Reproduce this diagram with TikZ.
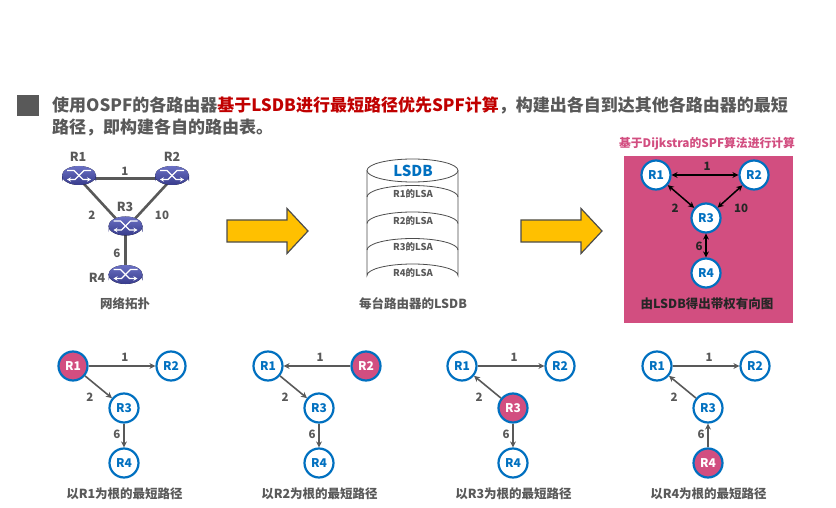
\documentclass[tikz,border=0pt]{standalone}
\usepackage{fontspec}
\setmainfont{Noto Sans CJK SC}
\usetikzlibrary{arrows.meta,shapes.geometric}
\definecolor{txtgray}{HTML}{595959}
\definecolor{keyred}{HTML}{C00000}
\definecolor{linkblue}{HTML}{0070C0}
\definecolor{rootpink}{HTML}{D24E80}
\definecolor{arrowgold}{HTML}{FFC000}
\definecolor{routerlight}{HTML}{6A70C4}
\definecolor{routerdark}{HTML}{383C8C}
\tikzset{
  >={Stealth[length=6pt,width=6pt]},
  plainnode/.style={circle,draw=linkblue,line width=2.2pt,fill=white,minimum size=29pt,inner sep=0pt,
    text=linkblue,font=\bfseries\fontsize{12}{12}\selectfont},
  rootnode/.style={plainnode,fill=rootpink,text=white},
  routernode/.style={ellipse,minimum width=34pt,minimum height=25pt,inner sep=0pt},
  graylabel/.style={text=txtgray,font=\bfseries\fontsize{11.5}{12}\selectfont,inner sep=0pt},
  routername/.style={text=txtgray,font=\bfseries\fontsize{12.5}{13}\selectfont,inner sep=0pt},
  caption/.style={text=txtgray,font=\bfseries\fontsize{12.5}{13}\selectfont,inner sep=0pt},
  netlink/.style={draw=txtgray,line width=2.6pt},
  treelink/.style={draw=txtgray,line width=1.6pt},
  lsalabel/.style={text=txtgray,font=\bfseries\fontsize{9.5}{10}\selectfont,inner sep=0pt},
  blockarrow/.style={fill=arrowgold,draw=black!70,line width=1.2pt},
}
\newcommand{\routericon}[1]{
  \begin{scope}[shift={(#1)}]
    \fill[routerdark] (-17,-3) -- (-17,3) arc[start angle=180,end angle=360,x radius=17,y radius=9.5] -- (17,-3) -- cycle;
    \fill[top color=routerlight,bottom color=routerdark] (0,-3) ellipse[x radius=17,y radius=9.5];
    \draw[white,line width=1.4pt,->,>={Stealth[length=4pt,width=4.5pt]}] (-12,-8) -- (-5,-8) -- (4,1) -- (12,1);
    \draw[white,line width=1.4pt,->,>={Stealth[length=4pt,width=4.5pt]}] (12,-8) -- (5,-8) -- (-4,1) -- (-12,1);
  \end{scope}
}
\begin{document}
\begin{tikzpicture}[x=1pt,y=-1pt]
\useasboundingbox (0,0) rectangle (836,508);
%heading
\fill[txtgray] (17,95) rectangle (39,116);
\node[anchor=west,inner sep=0pt,text=txtgray,font=\bfseries\fontsize{17}{17}\selectfont] (line1) at (52,105)
  {使用OSPF的各路由器\textcolor{keyred}{基于LSDB进行最短路径优先SPF计算}，构建出各自到达其他各路由器的最短};
\node[anchor=west,inner sep=0pt,text=txtgray,font=\bfseries\fontsize{17}{17}\selectfont] (line2) at (52,127)
  {路径，即构建各自的路由表。};

%topology
\node[routernode] (T1) at (79,178.5) {};
\node[routernode] (T2) at (172,178.5) {};
\node[routernode] (T3) at (125.5,229) {};
\node[routernode] (T4) at (125.5,277.5) {};
\draw[netlink] (T1.center) -- (T2.center);
\draw[netlink] (T1.center) -- (T3.center);
\draw[netlink] (T2.center) -- (T3.center);
\draw[netlink] (T3.center) -- (T4.center);
\foreach \n in {1,...,4}
  \routericon{T\n};
\node[routername] (nameR1) at (78,157) {R1};
\node[routername] (nameR2) at (172,157) {R2};
\node[routername] (nameR3) at (125,207) {R3};
\node[routername] (nameR4) at (97,278) {R4};
\node[graylabel] (cost12) at (125,171) {1};
\node[graylabel] (cost13) at (92,215) {2};
\node[graylabel] (cost23) at (162,215) {10};
\node[graylabel] (cost34) at (117,253) {6};
\node[caption] (topocap) at (125,304) {网络拓扑};

%block arrows
\foreach \ax in {227,521}
  \draw[blockarrow] (\ax,220) -- ++(60,0) -- ++(0,-11.5) -- ++(21,22.5) -- ++(-21,22.5) -- ++(0,-11.5) -- ++(-60,0) -- cycle;

%database
\draw[fill=white,draw=black!70,line width=.8pt] (367,170.5) -- (367,275.5)
  arc[start angle=180,end angle=360,x radius=45.5,y radius=11.5] -- (458,170.5);
\draw[fill=white,draw=black!70,line width=.8pt] (412.5,170.5) ellipse[x radius=45.5,y radius=11.5];
\foreach \sy in {197,223.5,250}
  \draw[draw=black!70,line width=.8pt] (367,\sy) arc[start angle=180,end angle=360,x radius=45.5,y radius=11.5];
\node[inner sep=0pt,text=linkblue,font=\bfseries\fontsize{15}{15}\selectfont] (lsdb) at (413,171) {LSDB};
\node[lsalabel] (lsa1) at (413,194) {R1的LSA};
\node[lsalabel] (lsa2) at (413,220.5) {R2的LSA};
\node[lsalabel] (lsa3) at (413,247) {R3的LSA};
\node[lsalabel] (lsa4) at (413,273) {R4的LSA};
\node[caption] (dbcap) at (413,304) {每台路由器的LSDB};

%weighted graph
\fill[rootpink] (624,156) rectangle (793,323);
\node[inner sep=0pt,text=rootpink,font=\bfseries\fontsize{11.8}{12}\selectfont] (algo) at (707,144) {基于Dijkstra的SPF算法进行计算};
\node[plainnode] (G1) at (656,175) {R1};
\node[plainnode] (G2) at (754,175) {R2};
\node[plainnode] (G3) at (706,218) {R3};
\node[plainnode] (G4) at (706,273) {R4};
\draw[<->,line width=1.5pt] (G1) -- (G2);
\draw[<->,line width=1.5pt] (G1) -- (G3);
\draw[<->,line width=1.5pt] (G2) -- (G3);
\draw[<->,line width=1.5pt] (G3) -- (G4);
\node[graylabel,text=black!85] (w12) at (707,166) {1};
\node[graylabel,text=black!85] (w13) at (675,208) {2};
\node[graylabel,text=black!85] (w23) at (741,208) {10};
\node[graylabel,text=black!85] (w34) at (699,246) {6};
\node[inner sep=0pt,text=black!85,font=\bfseries\fontsize{12.5}{13}\selectfont] (graphcap) at (707,304) {由LSDB得出带权有向图};

%shortest path trees
\foreach \px/\rootn/\ta/\tb/\tc in {0/1/->/->/->,195/2/<-/->/->,389/3/->/<-/->,584/4/->/<-/<-}{
  \begin{scope}[xshift=\px pt]
    \foreach \n/\nx/\ny in {1/73/366,2/171/366,3/124/408,4/124/463}{
      \ifnum\n=\rootn\def\nstyle{rootnode}\else\def\nstyle{plainnode}\fi
      \node[\nstyle] (P\rootn R\n) at (\nx,\ny) {R\n};
    }
    \draw[treelink,\ta] (P\rootn R1) -- (P\rootn R2);
    \draw[treelink,\tb] (P\rootn R1) -- (P\rootn R3);
    \draw[treelink,\tc] (P\rootn R3) -- (P\rootn R4);
    \node[graylabel] (P\rootn w1) at (125,357) {1};
    \node[graylabel] (P\rootn w2) at (90,397) {2};
    \node[graylabel] (P\rootn w3) at (117,434) {6};
    \node[caption] (P\rootn cap) at (124.5,494) {以R\rootn 为根的最短路径};
  \end{scope}
}
\end{tikzpicture}
\end{document}
